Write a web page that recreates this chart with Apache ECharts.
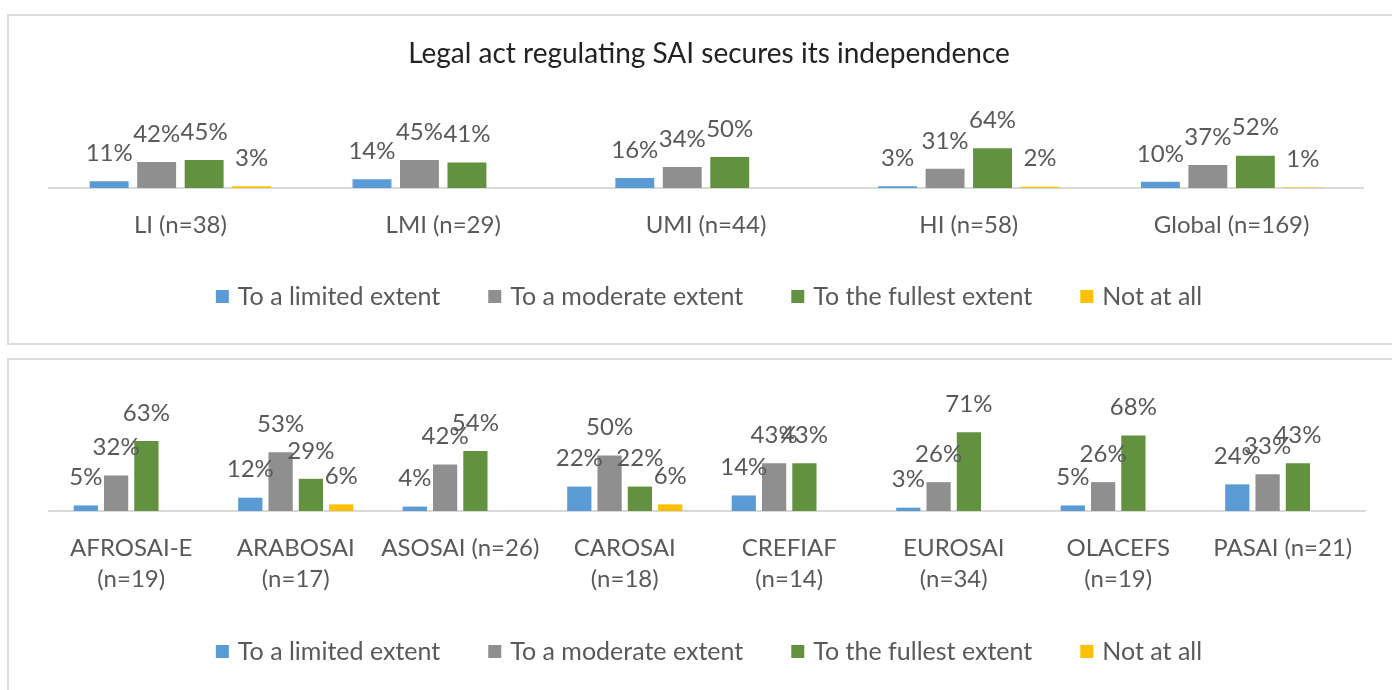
<!DOCTYPE html>
<html>
<head>
<meta charset="utf-8">
<script src="https://cdn.jsdelivr.net/npm/echarts@6/dist/echarts.min.js"></script>
<style>
  body { margin: 0; background: #fff; overflow: hidden; }
  .panel { position: absolute; left: 7px; width: 1400px; border: 2px solid #dcdcdc; background: #fff; }
  #income { top: 14px; height: 327px; }
  #region { top: 358px; height: 340px; }
</style>
</head>
<body>
<div id="income" class="panel"></div>
<div id="region" class="panel"></div>
<script>
// series names (shared legend)
var seriesNames = ['To a limited extent', 'To a moderate extent', 'To the fullest extent', 'Not at all'];
var colors = ['#5b9bd5', '#8f8f8f', '#62923f', '#ffc000'];

// top panel: by income group
var incomeCats = ['LI (n=38)', 'LMI (n=29)', 'UMI (n=44)', 'HI (n=58)', 'Global (n=169)'];
var incomeLimited  = [11, 14, 16, 3, 10];
var incomeModerate = [42, 45, 34, 31, 37];
var incomeFullest  = [45, 41, 50, 64, 52];
var incomeNotAtAll = [3, null, null, 2, 1];

// bottom panel: by INTOSAI region
var regionCats = ['AFROSAI-E\n(n=19)', 'ARABOSAI\n(n=17)', 'ASOSAI (n=26)', 'CAROSAI\n(n=18)',
                  'CREFIAF\n(n=14)', 'EUROSAI\n(n=34)', 'OLACEFS\n(n=19)', 'PASAI (n=21)'];
var regionLimited  = [5, 12, 4, 22, 14, 3, 5, 24];
var regionModerate = [32, 53, 42, 50, 43, 26, 26, 33];
var regionFullest  = [63, 29, 54, 22, 43, 71, 68, 43];
var regionNotAtAll = [null, 6, null, 6, null, null, null, null];

var font = 'Lato, "Liberation Sans", sans-serif';
var textGray = '#595959';

function makeOption(cats, values, grid, legendTop, titleText, catGap, barGap) {
    var series = values.map(function (d, i) {
        return {
            name: seriesNames[i],
            type: 'bar',
            data: d,
            barGap: barGap,
            barCategoryGap: catGap,
            itemStyle: { color: colors[i] },
            label: {
                show: true,
                position: 'top',
                distance: 16,
                formatter: '{c}%',
                color: textGray,
                fontFamily: font,
                fontSize: 24
            }
        };
    });
    return {
        animation: false,
        title: {
            show: !!titleText,
            text: titleText,
            left: 'center',
            top: 19,
            textStyle: { color: '#222', fontFamily: font, fontSize: 28, fontWeight: 'normal' }
        },
        legend: {
            data: seriesNames,
            top: legendTop,
            left: 'center',
            icon: 'rect',
            itemWidth: 13,
            itemHeight: 13,
            itemGap: 48,
            textStyle: { color: textGray, fontFamily: font, fontSize: 25, padding: [0, 0, 0, 4] }
        },
        grid: grid,
        xAxis: {
            type: 'category',
            data: cats,
            axisLine: { lineStyle: { color: '#d9d9d9', width: 2 } },
            axisTick: { show: false },
            axisLabel: {
                color: textGray,
                fontFamily: font,
                fontSize: 24,
                lineHeight: 31,
                margin: 22,
                interval: 0
            }
        },
        yAxis: {
            type: 'value',
            min: 0,
            max: 100,
            show: false,
            splitLine: { show: false }
        },
        series: series
    };
}

var chartTop = echarts.init(document.getElementById('income'));
chartTop.setOption(makeOption(
    incomeCats,
    [incomeLimited, incomeModerate, incomeFullest, incomeNotAtAll],
    { left: 40, width: 1314, top: 110, height: 62 },
    263,
    'Legal act regulating SAI secures its independence',
    '31%', '22%'
));

var chartBottom = echarts.init(document.getElementById('region'));
chartBottom.setOption(makeOption(
    regionCats,
    [regionLimited, regionModerate, regionFullest, regionNotAtAll],
    { left: 40, width: 1316, top: 40, height: 111 },
    274,
    '',
    '30%', '25%'
));

window.onresize = function () { chartTop.resize(); chartBottom.resize(); };
</script>
</body>
</html>
